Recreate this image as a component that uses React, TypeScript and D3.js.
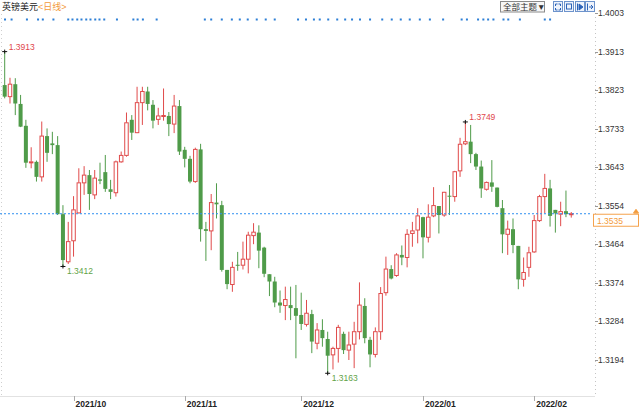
import { useEffect } from "react";
import * as d3 from "d3";

// trading days shown on the chart
const dates = [
  "2021/09/14", "2021/09/15", "2021/09/16", "2021/09/17", "2021/09/20", "2021/09/21", "2021/09/22",
  "2021/09/23", "2021/09/24", "2021/09/27", "2021/09/28", "2021/09/29", "2021/09/30",
  "2021/10/01", "2021/10/04", "2021/10/05", "2021/10/06", "2021/10/07", "2021/10/08", "2021/10/11",
  "2021/10/12", "2021/10/13", "2021/10/14", "2021/10/15", "2021/10/18", "2021/10/19", "2021/10/20",
  "2021/10/21", "2021/10/22", "2021/10/25", "2021/10/26", "2021/10/27", "2021/10/28", "2021/10/29",
  "2021/11/01", "2021/11/02", "2021/11/03", "2021/11/04", "2021/11/05", "2021/11/08", "2021/11/09",
  "2021/11/10", "2021/11/11", "2021/11/12", "2021/11/15", "2021/11/16", "2021/11/17", "2021/11/18",
  "2021/11/19", "2021/11/22", "2021/11/23", "2021/11/24", "2021/11/25", "2021/11/26", "2021/11/29",
  "2021/11/30",
  "2021/12/01", "2021/12/02", "2021/12/03", "2021/12/06", "2021/12/07", "2021/12/08", "2021/12/09",
  "2021/12/10", "2021/12/13", "2021/12/14", "2021/12/15", "2021/12/16", "2021/12/17", "2021/12/20",
  "2021/12/21", "2021/12/22", "2021/12/23", "2021/12/24", "2021/12/27", "2021/12/28", "2021/12/29",
  "2021/12/30", "2021/12/31",
  "2022/01/03", "2022/01/04", "2022/01/05", "2022/01/06", "2022/01/07", "2022/01/10", "2022/01/11",
  "2022/01/12", "2022/01/13", "2022/01/14", "2022/01/17", "2022/01/18", "2022/01/19", "2022/01/20",
  "2022/01/21", "2022/01/24", "2022/01/25", "2022/01/26", "2022/01/27", "2022/01/28", "2022/01/31",
  "2022/02/01", "2022/02/02", "2022/02/03", "2022/02/04", "2022/02/07", "2022/02/08", "2022/02/09",
  "2022/02/10",
];

const opens = [
  1.3835, 1.3808, 1.3837, 1.3791, 1.374, 1.3654, 1.3656, 1.3621, 1.3716, 1.3699, 1.3695, 1.3534, 1.3423,
  1.3472, 1.3537, 1.3607, 1.3625, 1.3579, 1.3615, 1.3632, 1.3592, 1.3584, 1.3656, 1.3671, 1.3754, 1.3724,
  1.3794, 1.382, 1.3789, 1.3755, 1.3762, 1.3763, 1.3744, 1.3786, 1.3684, 1.3663, 1.361, 1.3685, 1.3499,
  1.3495, 1.3561, 1.3555, 1.3404, 1.337, 1.3416, 1.3415, 1.3429, 1.3484, 1.3491, 1.3456, 1.3394, 1.3377,
  1.3328, 1.3321, 1.3322, 1.3315, 1.3299, 1.3277, 1.3301, 1.3233, 1.3264, 1.3243, 1.3206, 1.3221, 1.3255,
  1.3217, 1.3231, 1.326, 1.332, 1.3241, 1.3207, 1.326, 1.3351, 1.3406, 1.3391, 1.3439, 1.3433, 1.3489,
  1.3497, 1.3527, 1.348, 1.353, 1.3553, 1.3532, 1.3577, 1.3575, 1.3635, 1.3698, 1.3703, 1.3674, 1.3645,
  1.3592, 1.3608, 1.3596, 1.3548, 1.3487, 1.3499, 1.346, 1.3382, 1.341, 1.3446, 1.3519, 1.3575, 1.3594,
  1.3544, 1.3534, 1.3541, 1.3533,
];
const highs = [
  1.3913, 1.3852, 1.3851, 1.3812, 1.3754, 1.369, 1.3659, 1.375, 1.3734, 1.3726, 1.3716, 1.3555, 1.3516,
  1.3576, 1.3641, 1.3646, 1.3637, 1.3637, 1.3654, 1.3672, 1.3614, 1.3659, 1.368, 1.3771, 1.3765, 1.3831,
  1.3831, 1.3831, 1.38, 1.3782, 1.3827, 1.3772, 1.3812, 1.38, 1.3691, 1.367, 1.3689, 1.3698, 1.3516,
  1.3581, 1.3606, 1.3565, 1.3404, 1.3423, 1.3446, 1.347, 1.3493, 1.3513, 1.3508, 1.3458, 1.3394, 1.3388,
  1.3356, 1.3365, 1.3365, 1.3369, 1.3351, 1.3334, 1.3311, 1.328, 1.3289, 1.326, 1.3225, 1.3276, 1.326,
  1.326, 1.3283, 1.3375, 1.3338, 1.3248, 1.327, 1.3364, 1.3435, 1.3415, 1.3443, 1.3461, 1.3499, 1.3516,
  1.3548, 1.3528, 1.3557, 1.3597, 1.3553, 1.3586, 1.3602, 1.3635, 1.3712, 1.3749, 1.3742, 1.3677, 1.3659,
  1.361, 1.366, 1.3596, 1.3567, 1.3519, 1.3524, 1.346, 1.3433, 1.3458, 1.3532, 1.3579, 1.3628, 1.3614,
  1.3544, 1.3563, 1.3589, 1.3539,
];
const lows = [
  1.3804, 1.3792, 1.3765, 1.3737, 1.3642, 1.3641, 1.361, 1.361, 1.3656, 1.3674, 1.3532, 1.3412, 1.3418,
  1.3435, 1.3536, 1.3579, 1.3544, 1.3569, 1.3604, 1.3586, 1.3569, 1.3575, 1.3654, 1.3668, 1.3707, 1.3723,
  1.3742, 1.3776, 1.3734, 1.3742, 1.3752, 1.3716, 1.3723, 1.3672, 1.3643, 1.3606, 1.3607, 1.347, 1.3425,
  1.345, 1.3524, 1.34, 1.3359, 1.3353, 1.3402, 1.3405, 1.3396, 1.3464, 1.3408, 1.3387, 1.3343, 1.3317,
  1.3304, 1.3287, 1.3287, 1.3198, 1.3264, 1.3272, 1.321, 1.3219, 1.3225, 1.3163, 1.3172, 1.3188, 1.3208,
  1.3194, 1.3175, 1.3242, 1.3233, 1.3177, 1.32, 1.3241, 1.3344, 1.3382, 1.3388, 1.3415, 1.341, 1.3458,
  1.3466, 1.3431, 1.3468, 1.3527, 1.3489, 1.3528, 1.3532, 1.3563, 1.3621, 1.3695, 1.3653, 1.3637, 1.3572,
  1.3589, 1.3586, 1.355, 1.3443, 1.3439, 1.3443, 1.3359, 1.3365, 1.3388, 1.3444, 1.3516, 1.3536, 1.3505,
  1.3491, 1.3506, 1.3527, 1.3526,
];
const closes = [
  1.3808, 1.3837, 1.3792, 1.3738, 1.3654, 1.3656, 1.3621, 1.3716, 1.3677, 1.3695, 1.3534, 1.3427, 1.347,
  1.3544, 1.3607, 1.3625, 1.3581, 1.3618, 1.3612, 1.3593, 1.3586, 1.3656, 1.3671, 1.3747, 1.3724, 1.3794,
  1.382, 1.3791, 1.3752, 1.3763, 1.3764, 1.3744, 1.3786, 1.368, 1.3663, 1.361, 1.3685, 1.3499, 1.3495,
  1.3561, 1.3557, 1.3404, 1.3371, 1.341, 1.3414, 1.3429, 1.3485, 1.3492, 1.3449, 1.3395, 1.3377, 1.3328,
  1.3321, 1.3335, 1.3315, 1.3297, 1.3278, 1.3303, 1.3237, 1.3264, 1.3245, 1.3204, 1.3221, 1.327, 1.3217,
  1.3229, 1.326, 1.3322, 1.3245, 1.3207, 1.326, 1.3349, 1.3406, 1.3384, 1.3439, 1.3433, 1.3487, 1.3495,
  1.353, 1.348, 1.3527, 1.3554, 1.3532, 1.3585, 1.3575, 1.3633, 1.3697, 1.3703, 1.3674, 1.3645, 1.3594,
  1.3608, 1.3598, 1.3551, 1.3487, 1.3499, 1.3462, 1.3382, 1.3398, 1.3444, 1.3519, 1.3575, 1.3594, 1.353,
  1.3536, 1.354, 1.3534, 1.3535,
];

const priceTicks = ["1.4003", "1.3913", "1.3823", "1.3733", "1.3643", "1.3554", "1.3464", "1.3374", "1.3284", "1.3194"];
const monthTickDates = ["2021/10/01", "2021/11/01", "2021/12/01", "2022/01/03", "2022/02/01"];
const monthLabels = ["2021/10", "2021/11", "2021/12", "2022/01", "2022/02"];
const lastPrice = 1.3535;

const extremeDates = ["2021/09/14", "2021/09/29", "2021/12/08", "2022/01/13"];
const extremeValues = [1.3913, 1.3412, 1.3163, 1.3749];
const extremeKinds = ["high", "low", "low", "high"];

// news markers along the top, in trading-day slots
const eventSlots = [
  0.06, 1.3, 4.2, 6.3, 7.2, 9.2, 12.0, 12.8, 13.7, 14.5, 15.4, 16.2, 17.1, 17.9, 18.8, 21.2, 24.3, 25.1,
  26.1, 28.7, 37.8, 39.0, 41.0, 42.9, 44.4, 45.9, 47.6, 49.3, 51.0, 55.4, 56.9, 58.4, 59.5, 61.1, 62.8,
  64.3, 65.6, 67.1, 69.0, 71.3, 73.1, 74.8, 76.5, 78.4, 80.3, 82.8, 86.3, 87.3, 89.4, 90.4, 91.3, 92.3,
  94.2, 95.1, 97.3, 102.0, 103.0,
];

const W = 640;
const H = 411;
const axisX = 595;
const plotBottom = 396;
const UP = "#e04b4b";
const DOWN = "#4f9b49";
const FONT = "Arial, 'Liberation Sans', 'Noto Sans CJK SC', sans-serif";

export default function App() {
  useEffect(() => {
    document.body.style.margin = "0";
  }, []);

  const x = d3.scaleBand<string>().domain(dates).range([2.05, 573.9]).padding(0);
  const cx = (d: string) => (x(d) as number) + x.bandwidth() / 2;
  const y = d3.scaleLinear().domain([1.3194, 1.4003]).range([360, 13]);
  const slot = d3
    .scaleLinear()
    .domain([0, dates.length - 1])
    .range([cx(dates[0]), cx(dates[dates.length - 1])]);

  const bodyW = 4;
  const lastY = y(lastPrice);

  return (
    <svg width={W} height={H} style={{ display: "block", position: "absolute", left: 0, top: 0 }} fontFamily={FONT}>
      <rect width={W} height={H} fill="#fff" />

      {/* title */}
      <text x={2} y={10} fontSize={9} fill="#222">
        英镑美元<tspan fill="#f39a3a">{"<日线>"}</tspan>
      </text>

      {/* top-right controls */}
      <rect x={500.5} y={1.5} width={44} height={10.5} fill="#f7f7f7" stroke="#8a8a8a" />
      <text x={503} y={10} fontSize={8.5} fill="#333">
        全部主题▼
      </text>
      {[553, 564, 575, 585].map((bx, i) => (
        <g key={`btn-${i}`}>
          <rect x={bx + 0.5} y={1.5} width={9} height={10} fill="#eef3fb" stroke="#6d93cc" />
          {i === 0 && (
            <path
              d={`M${bx + 2.5},${4} h2 M${bx + 2.5},${4} v2 M${bx + 7.5},${4} h-2 M${bx + 7.5},${4} v2 M${bx + 2.5},${10} h2 M${bx + 2.5},${10} v-2 M${bx + 7.5},${10} h-2 M${bx + 7.5},${10} v-2`}
              stroke="#2b62b8"
              fill="none"
            />
          )}
          {i === 1 && <rect x={bx + 2.5} y={4} width={5} height={5} fill="none" stroke="#2b62b8" />}
          {i === 2 && (
            <path d={`M${bx + 2.5},${3.5} v7 M${bx + 4},${4} l4,3 l-4,3 z`} stroke="#2b62b8" fill="#2b62b8" />
          )}
          {i === 3 && (
            <path d={`M${bx + 2.5},${3.5} v7 M${bx + 4},${7} h4 M${bx + 6},${5} l2,2 l-2,2`} stroke="#2b62b8" fill="none" />
          )}
        </g>
      ))}

      {/* event markers */}
      {eventSlots.map((s, i) => (
        <rect key={`ev-${i}`} x={slot(s) - 1} y={18.5} width={2} height={2} fill="#2d7fd6" />
      ))}

      {/* frame lines */}
      <line x1={1.5} x2={1.5} y1={14} y2={plotBottom} stroke="#cfcfcf" strokeDasharray="1,3" />
      <line x1={axisX + 0.5} x2={axisX + 0.5} y1={13} y2={plotBottom} stroke="#c4c4c4" strokeDasharray="1,3" />
      <line x1={0} x2={axisX} y1={plotBottom + 0.5} y2={plotBottom + 0.5} stroke="#e2e2e2" />

      {/* price axis */}
      {priceTicks.map((t) => (
        <g key={`pt-${t}`}>
          <line x1={axisX} x2={axisX + 3} y1={Math.round(y(+t)) + 0.5} y2={Math.round(y(+t)) + 0.5} stroke="#999" />
          <text x={598} y={y(+t)} dy="0.35em" fontSize={8.5} fill="#333">
            {t}
          </text>
        </g>
      ))}

      {/* month axis */}
      {monthTickDates.map((d, i) => (
        <g key={`mt-${d}`}>
          <line x1={Math.round(cx(d)) + 0.5} x2={Math.round(cx(d)) + 0.5} y1={plotBottom} y2={plotBottom + 5} stroke="#aaa" />
          <text x={cx(d) + 2} y={407} fontSize={8.5} fontWeight="bold" fill="#222">
            {monthLabels[i]}
          </text>
        </g>
      ))}

      {/* candles */}
      {dates.map((d, i) => {
        const c = cx(d);
        const o = opens[i];
        const cl = closes[i];
        const up = cl >= o;
        const top = y(Math.max(o, cl));
        const bot = y(Math.min(o, cl));
        const h = Math.max(1, bot - top);
        if (up) {
          return (
            <g key={`c-${d}`}>
              <line x1={c} x2={c} y1={y(highs[i])} y2={top} stroke={UP} />
              <line x1={c} x2={c} y1={top + h} y2={y(lows[i])} stroke={UP} />
              <rect x={c - bodyW / 2 + 0.25} y={top} width={bodyW - 0.5} height={h} fill="#fff" stroke={UP} />
            </g>
          );
        }
        return (
          <g key={`c-${d}`}>
            <line x1={c} x2={c} y1={y(highs[i])} y2={y(lows[i])} stroke={DOWN} />
            <rect x={c - bodyW / 2} y={top} width={bodyW} height={h} fill={DOWN} />
          </g>
        );
      })}

      {/* last price line */}
      <line x1={0} x2={592} y1={lastY} y2={lastY} stroke="#2f8ff0" strokeDasharray="2,2" />
      <rect x={593.5} y={lastY + 0.5} width={45} height={12} fill="#fff" stroke="#f5a24c" />
      <text x={597} y={lastY + 6.8} dy="0.35em" fontSize={8.5} fill="#f39a3a">
        {lastPrice.toFixed(4)}
      </text>
      <path d={`M${633.5},${lastY - 1} l2.5,-3.5 l2.5,3.5 z M${633.5},${lastY - 0.5} h5`} fill="#f39a3a" stroke="#f39a3a" strokeWidth={0.8} />

      {/* extreme markers */}
      {extremeDates.map((d, i) => {
        const c = cx(d);
        const v = y(extremeValues[i]);
        const isHigh = extremeKinds[i] === "high";
        return (
          <g key={`ex-${d}`}>
            <line x1={c - 2.5} x2={c + 2.5} y1={v} y2={v} stroke="#111" />
            <line x1={c} x2={c} y1={v - 2} y2={v + 2} stroke="#111" />
            <text
              x={c + 4}
              y={isHigh ? v - 4.5 : v + 5}
              dy="0.35em"
              fontSize={8.5}
              fill={isHigh ? "#e0474c" : "#5fa347"}
            >
              {extremeValues[i].toFixed(4)}
            </text>
          </g>
        );
      })}
    </svg>
  );
}
